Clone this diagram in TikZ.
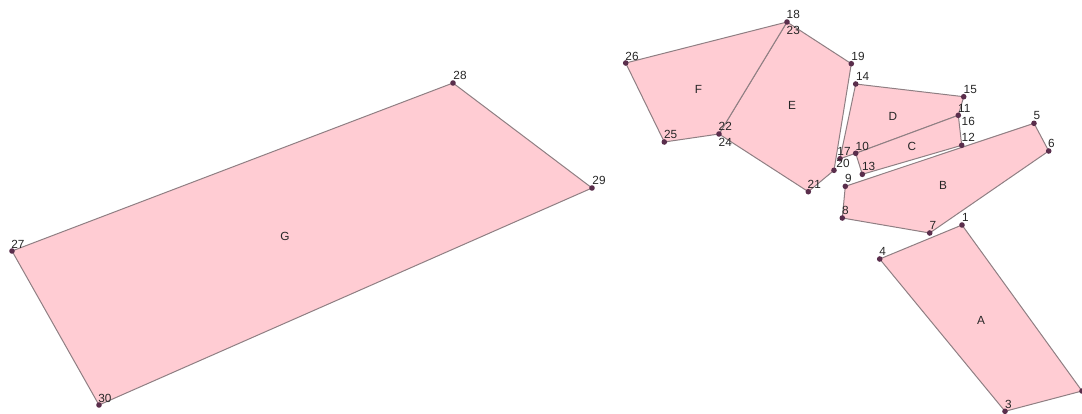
\documentclass[tikz,border=0pt]{standalone}
\usepackage{fontspec}
\setmainfont{Liberation Sans}
\definecolor{polyfill}{HTML}{FFCCD3}
\definecolor{polyline}{HTML}{8F7F83}
\definecolor{dotfill}{HTML}{5A2E4C}
\tikzset{
  polygon/.style={fill=polyfill,draw=polyline,line width=1pt,line join=round},
  vertexdot/.style={circle,fill=dotfill,inner sep=0pt,minimum size=5.6pt},
  numlabel/.style={inner sep=0pt,font=\fontsize{11.8}{12}\selectfont,text=black!85},
  letter/.style={inner sep=0pt,font=\fontsize{11.8}{12}\selectfont,text=black!85}
}
\begin{document}
\begin{tikzpicture}[x=1pt,y=-1pt]
\useasboundingbox (0,0) rectangle (1082,413);
\clip (0,0) rectangle (1082,413);
% vertices
\coordinate (p1) at (962,225);
\coordinate (p2) at (1082,391);
\coordinate (p3) at (1005,411.3);
\coordinate (p4) at (879.7,259);
\coordinate (p5) at (1034,123.3);
\coordinate (p6) at (1048.7,151);
\coordinate (p7) at (929.7,233);
\coordinate (p8) at (842.3,218);
\coordinate (p9) at (845.3,186.3);
\coordinate (p10) at (855.7,153.3);
\coordinate (p11) at (958.3,115.3);
\coordinate (p12) at (961.7,145.3);
\coordinate (p13) at (862.3,174.3);
\coordinate (p14) at (855.7,84);
\coordinate (p15) at (963.7,96.7);
\coordinate (p17) at (840,158.7);
\coordinate (p18) at (787,22);
\coordinate (p19) at (851.3,63.7);
\coordinate (p20) at (834,170.3);
\coordinate (p21) at (808.3,191.7);
\coordinate (p22) at (719,134);
\coordinate (p25) at (664.3,142);
\coordinate (p26) at (625.7,63);
\coordinate (p27) at (12,251);
\coordinate (p28) at (453,83);
\coordinate (p29) at (592,188);
\coordinate (p30) at (99,405);
% polygons
\draw[polygon] (p1) -- (p2) -- (p3) -- (p4) -- cycle;
\draw[polygon] (p5) -- (p6) -- (p7) -- (p8) -- (p9) -- cycle;
\draw[polygon] (p14) -- (p15) -- (p11) -- (p10) -- (p17) -- cycle;
\draw[polygon] (p10) -- (p11) -- (p12) -- (p13) -- cycle;
\draw[polygon] (p18) -- (p19) -- (p20) -- (p21) -- (p22) -- cycle;
\draw[polygon] (p18) -- (p26) -- (p25) -- (p22) -- cycle;
\draw[polygon] (p27) -- (p28) -- (p29) -- (p30) -- cycle;
% vertex dots
\foreach \v in {1,2,3,4,5,6,7,8,9,10,11,12,13,14,15,17,18,19,20,21,22,25,26,27,28,29,30}
  \node[vertexdot] (d\v) at (p\v) {};
% number labels
\node[numlabel] (n1) at (965.3,217) {1};
\node[numlabel] (n3) at (1008.3,404.3) {3};
\node[numlabel] (n4) at (882.7,251) {4};
\node[numlabel] (n5) at (1037,115.7) {5};
\node[numlabel] (n6) at (1051.3,143.3) {6};
\node[numlabel] (n7) at (933,225.3) {7};
\node[numlabel] (n8) at (845.3,210.7) {8};
\node[numlabel] (n9) at (848.3,178.7) {9};
\node[numlabel] (n10) at (862.3,146) {10};
\node[numlabel] (n11) at (964.3,108) {11};
\node[numlabel] (n12) at (968.3,137.7) {12};
\node[numlabel] (n13) at (868.7,166.7) {13};
\node[numlabel] (n14) at (862.7,76.3) {14};
\node[numlabel] (n15) at (970.3,89) {15};
\node[numlabel] (n16) at (968.3,121.3) {16};
\node[numlabel] (n17) at (844,151.3) {17};
\node[numlabel] (n18) at (793.3,14) {18};
\node[numlabel] (n19) at (858,56) {19};
\node[numlabel] (n20) at (843,163.7) {20};
\node[numlabel] (n21) at (814.3,184) {21};
\node[numlabel] (n22) at (725.3,126.7) {22};
\node[numlabel] (n23) at (793.3,30) {23};
\node[numlabel] (n24) at (725.3,142.7) {24};
\node[numlabel] (n25) at (670.7,134.7) {25};
\node[numlabel] (n26) at (632,56) {26};
\node[numlabel] (n27) at (18,244) {27};
\node[numlabel] (n28) at (460,75) {28};
\node[numlabel] (n29) at (599,180) {29};
\node[numlabel] (n30) at (105,398) {30};
% polygon letters
\node[letter] (la) at (981,320) {A};
\node[letter] (lb) at (943,185.5) {B};
\node[letter] (lc) at (912,146.7) {C};
\node[letter] (ld) at (893,116) {D};
\node[letter] (le) at (792,105) {E};
\node[letter] (lf) at (698.5,89) {F};
\node[letter] (lg) at (285,236) {G};
\end{tikzpicture}
\end{document}
